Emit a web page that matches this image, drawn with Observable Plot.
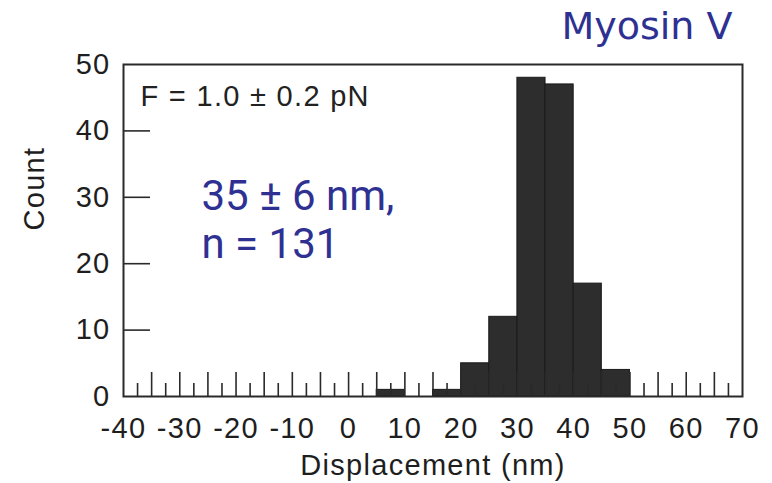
<!DOCTYPE html>
<html><head><meta charset="utf-8">
<script src="https://cdn.jsdelivr.net/npm/d3@7"></script>
<script src="https://cdn.jsdelivr.net/npm/@observablehq/plot@0.6"></script>
<style>
html,body{margin:0;padding:0;background:#fff;}
svg text{letter-spacing:1.3px;}
g[fill="#2e3192"] text{letter-spacing:0;}
</style></head><body><div id="chart"></div>
<script>
// Histogram bins (nm) and counts
const binStart = [5, 15, 20, 25, 30, 35, 40, 45];
const binEnd   = [10, 20, 25, 30, 35, 40, 45, 50];
const counts   = [1, 1, 5, 12, 48, 47, 17, 4];

// Axis ticks
const xTickLabels = [-40, -30, -20, -10, 0, 10, 20, 30, 40, 50, 60, 70];
const yTickLabels = [0, 10, 20, 30, 40, 50];
const xMajorInner = [-35, -30, -25, -20, -15, -10, -5, 0, 5, 10, 15, 20, 25, 30, 35, 40, 45, 50, 55, 60, 65];
const xMinorInner = [-37.5, -32.5, -27.5, -22.5, -17.5, -12.5, -7.5, -2.5, 2.5, 7.5, 12.5, 17.5, 22.5, 27.5, 32.5, 37.5, 42.5, 47.5, 52.5, 57.5, 62.5, 67.5];
const yInner = [10, 20, 30, 40];

// Texts
const titleText = "Myosin V";
const forceText = "F = 1.0 \u00B1 0.2 pN";
const statText = "35 \u00B1 6 nm,\nn = 131";
const xLabel = "Displacement (nm)";
const yLabel = "Count";

const bars = binStart.map((s, i) => ({x1: s, x2: binEnd[i], y: counts[i]}));

const W = 772, H = 483, mL = 123, mR = 30, mT = 64, mB = 87;
const plotW = W - mL - mR, plotH = H - mT - mB;
const blue = "#2e3192";
const ink = "#2a2a2a";

const chart = Plot.plot({
  width: W, height: H,
  marginLeft: mL, marginRight: mR, marginTop: mT, marginBottom: mB,
  x: {domain: [-40, 70]},
  y: {domain: [0, 50]},
  style: {fontFamily: "'Liberation Sans', Arial, sans-serif", fontSize: "29px", color: "#1e1e1e", background: "#fff"},
  marks: [
    Plot.rectY(bars, {x1: "x1", x2: "x2", y: "y", fill: "#2d2d2d", stroke: "#1a1a1a", strokeWidth: 1}),
    Plot.tickX(xMajorInner, {x: d => d, insetTop: plotH - 24, stroke: ink, strokeWidth: 1.6}),
    Plot.tickX(xMinorInner, {x: d => d, insetTop: plotH - 13, stroke: ink, strokeWidth: 1.6}),
    Plot.tickY(yInner, {y: d => d, insetRight: plotW - 27, stroke: ink, strokeWidth: 1.6}),
    Plot.frame({stroke: ink, strokeWidth: 2}),
    Plot.axisX(xTickLabels, {tickSize: 0, tickPadding: 21, label: null, fontSize: 29, tickFormat: d => `${d}`}),
    Plot.axisY(yTickLabels, {tickSize: 0, tickPadding: 13, label: null, fontSize: 29, tickFormat: d => `${d}`}),
    Plot.text([xLabel], {frameAnchor: "bottom", text: d => d, dy: 69, lineAnchor: "middle", fontSize: 29}),
    Plot.text([yLabel], {frameAnchor: "left", text: d => d, dx: -89, rotate: -90, lineAnchor: "middle", fontSize: 29}),
    Plot.text([forceText], {frameAnchor: "top-left", text: d => d, dx: 17, dy: 21, textAnchor: "start", lineAnchor: "top", fontSize: 29, fill: "#222"}),
    Plot.text([statText], {frameAnchor: "top-left", text: d => d, dx: 78, dy: 111, textAnchor: "start", lineAnchor: "top", fontSize: 42, lineHeight: 1.143, fill: blue, fontFamily: "Roboto, 'Noto Sans', sans-serif"}),
    Plot.text([titleText], {frameAnchor: "top-right", text: d => d, dx: -10, dy: -52, textAnchor: "end", lineAnchor: "top", fontSize: 38, fill: blue, fontFamily: "'DejaVu Sans', Verdana, sans-serif"})
  ]
});
document.getElementById("chart").appendChild(chart);
</script>
</body></html>
